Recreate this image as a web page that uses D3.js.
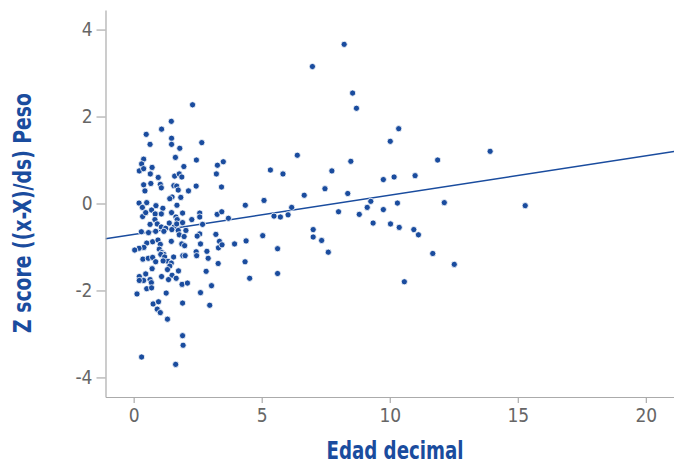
<!DOCTYPE html>
<html>
<head>
<meta charset="utf-8">
<script src="https://cdn.jsdelivr.net/npm/d3@7"></script>
<style>
  html, body { margin: 0; padding: 0; background: #fff; }
  svg { display: block; }
</style>
</head>
<body>
<svg id="chart" width="674" height="463"></svg>
<script>
// ---- data ----
const ageYears = [
  8.22,6.98,8.55,8.70,10.35,10.02,13.92,6.39,8.48,11.87,5.34,5.83,7.74,9.75,10.17,10.99,7.47,6.66,8.36,4.36,
  5.09,6.17,9.26,10.30,12.13,15.29,5.48,5.73,6.03,8.00,8.81,9.12,9.75,9.35,10.03,10.37,10.94,11.12,7.01,7.01,
  7.34,4.39,5.04,5.62,7.60,11.68,12.52,4.35,4.53,5.62,10.57,
  2.30,1.47,1.09,0.49,1.48,0.64,1.48,1.80,2.66,1.63,2.45,3.50,3.27,0.39,0.31,0.72,1.96,0.22,0.39,0.65,
  0.96,1.60,1.78,1.88,3.23,0.39,0.67,1.04,1.08,1.57,1.68,2.44,3.43,0.44,2.14,1.74,1.50,1.84,1.41,
  0.51,0.21,0.34,0.87,1.14,1.69,0.35,0.47,0.70,0.84,1.08,1.48,1.65,1.70,1.91,2.58,2.58,3.26,3.44,3.70,
  0.83,0.64,0.92,1.39,1.58,1.68,1.91,2.27,2.69,1.08,1.25,1.74,2.04,1.49,0.30,0.58,0.86,1.18,1.78,1.97,
  2.58,2.48,3.21,1.47,0.74,0.95,1.04,0.51,0.40,0.21,0.04,1.88,1.99,2.61,3.35,3.31,3.45,3.94,1.00,1.10,
  1.18,1.06,1.21,1.56,1.92,2.01,2.44,2.46,2.86,2.91,3.30,0.36,0.57,0.74,0.86,1.34,1.47,1.41,1.15,0.72,
  1.32,1.75,1.50,0.47,0.22,0.39,0.22,0.64,0.69,1.09,1.36,1.66,2.83,1.89,2.10,0.51,0.70,0.13,1.27,2.61,
  3.04,0.76,0.97,0.92,1.04,1.91,2.97,1.32,1.91,1.93,0.31,1.64
];
const zScores = [
  3.66,3.15,2.54,2.19,1.72,1.43,1.20,1.11,0.97,1.00,0.77,0.68,0.75,0.55,0.61,0.64,0.34,0.19,0.23,-0.04,
  0.07,-0.09,0.05,0.01,0.02,-0.05,-0.29,-0.31,-0.26,-0.19,-0.25,-0.09,-0.14,-0.45,-0.47,-0.55,-0.60,-0.72,-0.60,-0.77,
  -0.85,-0.86,-0.74,-1.04,-1.12,-1.15,-1.40,-1.34,-1.72,-1.61,-1.80,
  2.27,1.89,1.71,1.59,1.50,1.36,1.36,1.27,1.40,1.06,1.00,0.96,0.88,1.02,0.91,0.83,0.85,0.75,0.80,0.68,
  0.60,0.63,0.68,0.61,0.68,0.43,0.46,0.44,0.36,0.41,0.40,0.40,0.38,0.29,0.29,0.31,0.15,0.14,0.11,
  0.02,0.01,-0.09,-0.05,-0.11,-0.04,-0.30,-0.21,-0.15,-0.24,-0.24,-0.21,-0.31,-0.37,-0.22,-0.22,-0.31,-0.25,-0.19,-0.34,
  -0.37,-0.48,-0.47,-0.45,-0.54,-0.47,-0.44,-0.37,-0.48,-0.54,-0.57,-0.62,-0.62,-0.60,-0.65,-0.67,-0.64,-0.64,-0.72,-0.76,
  -0.70,-0.75,-0.71,-0.87,-0.88,-0.84,-0.94,-0.91,-1.01,-1.03,-1.07,-0.93,-0.97,-0.93,-0.87,-1.02,-0.95,-0.93,-1.05,-1.13,
  -1.17,-1.17,-1.23,-1.23,-1.20,-1.20,-1.11,-1.20,-1.10,-1.26,-1.38,-1.28,-1.26,-1.24,-1.34,-1.33,-1.37,-1.44,-1.32,-1.50,
  -1.52,-1.55,-1.65,-1.62,-1.68,-1.77,-1.77,-1.75,-1.82,-1.68,-1.75,-1.72,-1.56,-1.86,-1.83,-1.96,-1.94,-2.08,-2.06,-2.05,
  -1.89,-2.31,-2.26,-2.43,-2.51,-2.29,-2.34,-2.66,-3.04,-3.26,-3.53,-3.70
];
const xTicks = [0, 5, 10, 15, 20];
const yTicks = [-4, -2, 0, 2, 4];
const regression = { intercept: -0.712, slope: 0.0904 };
const xDomain = [-1.1, 21.1];
const yDomain = [-4.45, 4.45];
const xTitle = "Edad decimal";
const yTitle = "Z score ((x-X)/ds) Peso";

// ---- drawing ----
const svg = d3.select("#chart");
const W = 674, H = 463;
const m = { left: 105.5, top: 10, right: 0, bottom: 66 };
const blue = "#1a4c9e";
const grey = "#ababab";
const tickFont = "'Liberation Sans Narrow', 'DejaVu Sans Condensed', sans-serif";

const x = d3.scaleLinear().domain(xDomain).range([m.left, W - m.right]);
const y = d3.scaleLinear().domain(yDomain).range([H - m.bottom, m.top]);

const points = ageYears.map((a, i) => ({ a, z: zScores[i] }));

// regression line
svg.append("defs").append("clipPath").attr("id", "plotclip")
  .append("rect").attr("x", m.left).attr("y", m.top)
  .attr("width", W - m.left - m.right).attr("height", H - m.top - m.bottom);

svg.append("path")
  .attr("clip-path", "url(#plotclip)")
  .attr("d", d3.line().x(d => x(d)).y(d => y(regression.intercept + regression.slope * d))(xDomain))
  .attr("fill", "none").attr("stroke", blue).attr("stroke-width", 1.4);

// points
svg.append("g").selectAll("circle").data(points).join("circle")
  .attr("cx", d => x(d.a)).attr("cy", d => y(d.z))
  .attr("r", 3.1)
  .attr("fill", blue)
  .attr("stroke", "#fff").attr("stroke-width", 0.8);

// axes
const fmt = d => String(d);
const xAxis = svg.append("g")
  .attr("transform", `translate(0,${H - m.bottom})`)
  .call(d3.axisBottom(x).tickValues(xTicks).tickFormat(fmt).tickSize(6).tickPadding(6).tickSizeOuter(0));
const yAxis = svg.append("g")
  .attr("transform", `translate(${m.left},0)`)
  .call(d3.axisLeft(y).tickValues(yTicks).tickFormat(fmt).tickSize(9).tickPadding(4).tickSizeOuter(0));

[xAxis, yAxis].forEach(g => {
  g.select(".domain").attr("stroke", grey).attr("stroke-width", 1.2);
  g.selectAll(".tick line").attr("stroke", grey).attr("stroke-width", 1.2);
  g.selectAll(".tick text")
    .attr("fill", "#666")
    .style("font-family", tickFont)
    .style("font-size", "19px");
});

// axis titles
svg.append("text")
  .attr("x", 395).attr("y", 458.5)
  .attr("text-anchor", "middle")
  .attr("fill", blue)
  .attr("textLength", 137).attr("lengthAdjust", "spacingAndGlyphs")
  .style("font-family", tickFont)
  .style("font-weight", "bold")
  .style("font-size", "25px")
  .text(xTitle);

svg.append("text")
  .attr("transform", "translate(31,213) rotate(-90)")
  .attr("text-anchor", "middle")
  .attr("fill", blue)
  .attr("textLength", 240).attr("lengthAdjust", "spacingAndGlyphs")
  .style("font-family", tickFont)
  .style("font-weight", "bold")
  .style("font-size", "25px")
  .text(yTitle);
</script>
</body>
</html>
